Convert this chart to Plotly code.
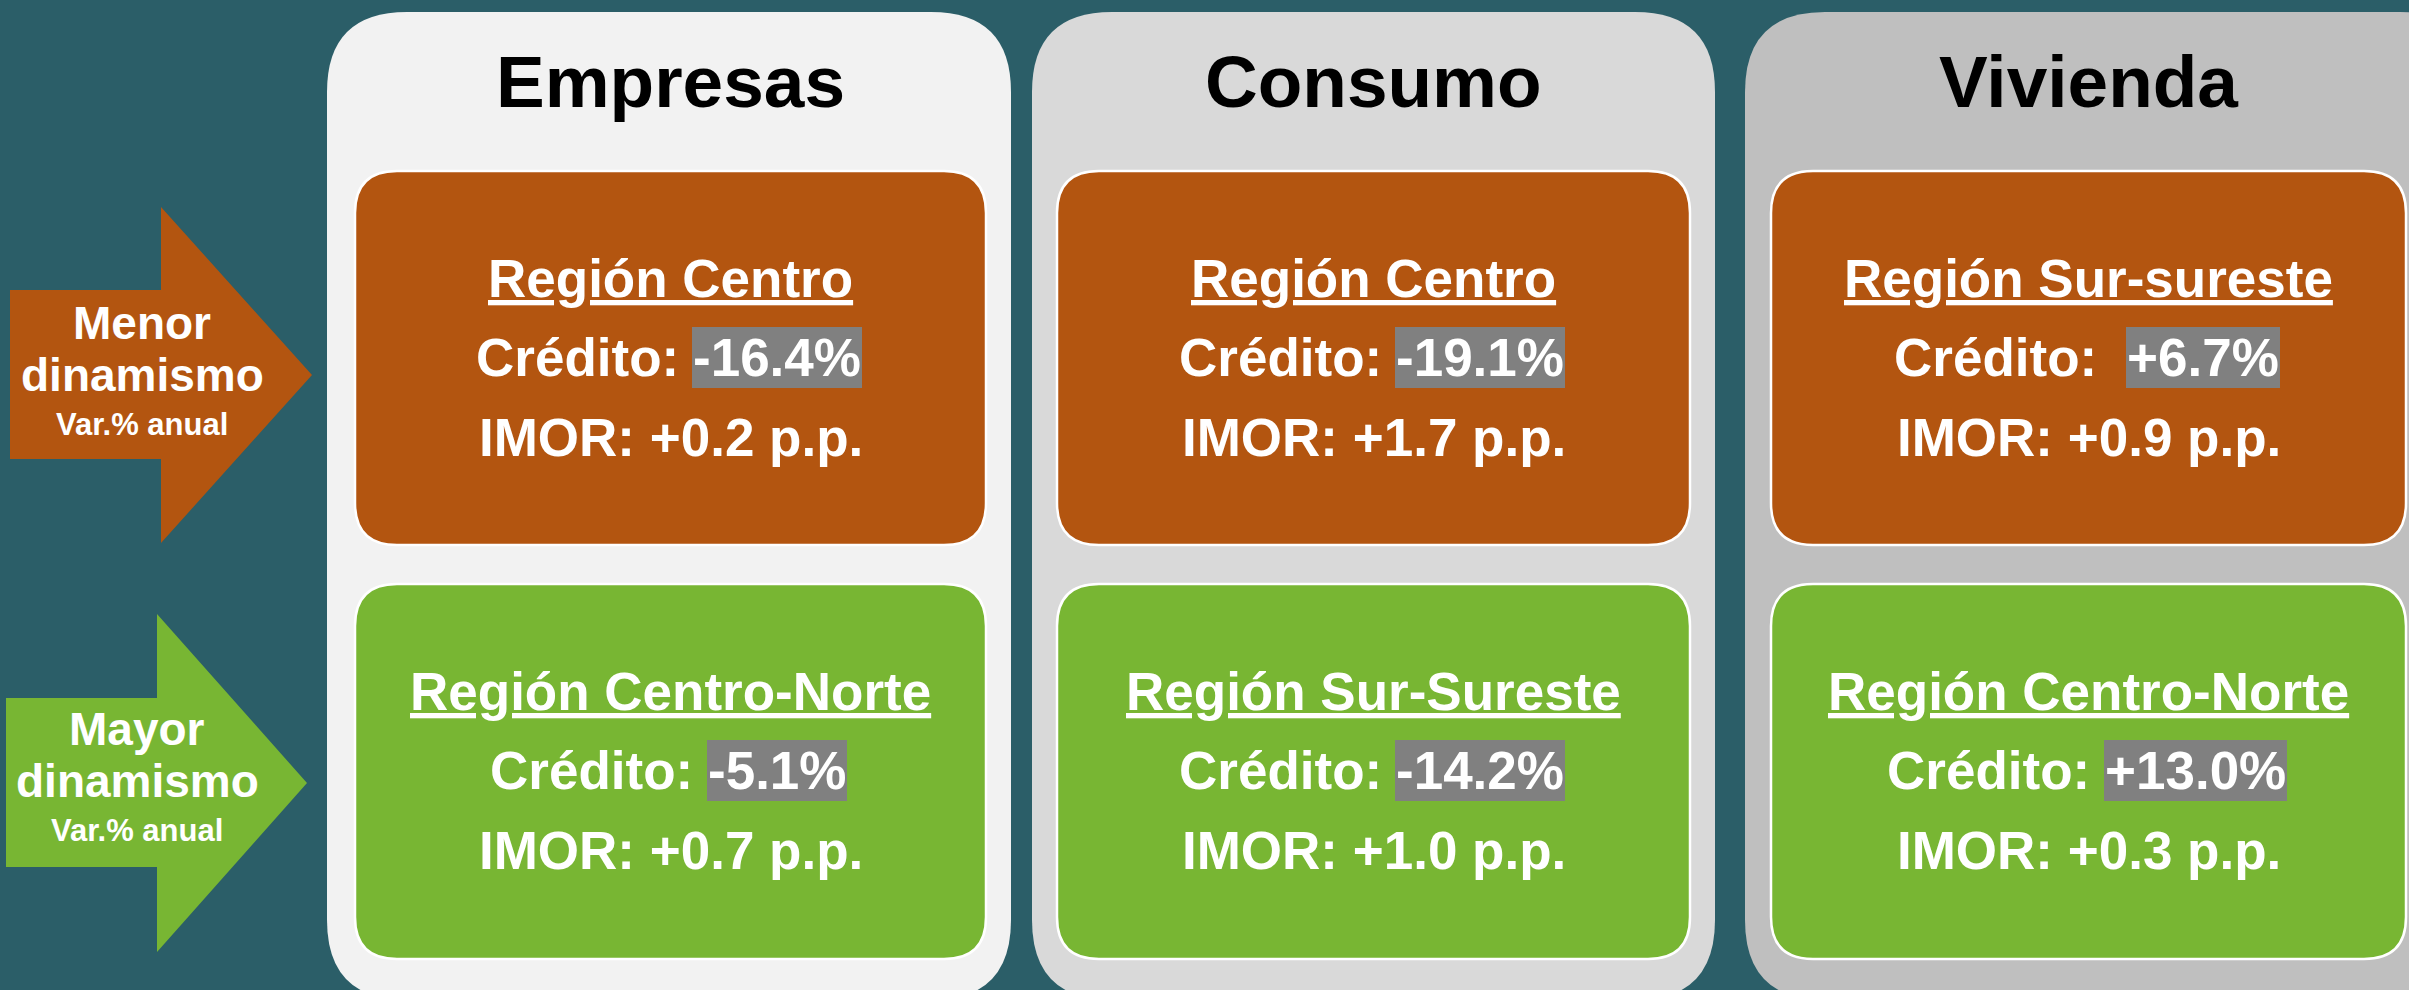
import plotly.graph_objects as go

# ---------------- data ----------------
categories = ["Empresas", "Consumo", "Vivienda"]
row_labels = ["Menor<br>dinamismo", "Mayor<br>dinamismo"]
row_unit = "Var.% anual"

menor_region = ["Región Centro", "Región Centro", "Región Sur-sureste"]
menor_credito = [-16.4, -19.1, 6.7]
menor_imor = [0.2, 1.7, 0.9]

mayor_region = ["Región Centro-Norte", "Región Sur-Sureste", "Región Centro-Norte"]
mayor_credito = [-5.1, -14.2, 13.0]
mayor_imor = [0.7, 1.0, 0.3]

credit_gap_spaces = [[1, 1, 2], [1, 1, 1]]

# ---------------- style / layout ----------------
W, H = 2409, 990
BG = "#2B5E68"
ORANGE = "#B35510"
GREEN = "#78B633"
HIGHLIGHT = "#808080"
PANEL_COLORS = ["#F2F2F2", "#D9D9D9", "#BFBFBF"]
ROW_COLORS = [ORANGE, GREEN]
FONT = "Liberation Sans, Arial, sans-serif"

panel_x = [(327, 1011), (1032, 1715), (1745, 2480)]
panel_top, panel_bottom, panel_r = 12, 1000, 80
box_x = [(355, 986), (1057, 1690), (1771, 2406)]
box_y = [(171, 545), (584, 959)]
box_r = 42
title_y = 81
title_size = 73
line_offsets = [107, 186, 266]
box_font = 53

arrows = [
    dict(l=10, t=290, b=459, hx=161, ht=207, hb=543, tip=312, tx=142, ty=[323, 375, 424]),
    dict(l=6, t=698, b=867, hx=157, ht=614, hb=952, tip=307, tx=137, ty=[729, 781, 830]),
]

# Arial Bold advance widths (per 1000 em)
AW = {" ": 278, "%": 889, "+": 584, "-": 333, ".": 278, ":": 333,
      "C": 722, "r": 389, "é": 556, "d": 611, "i": 278, "t": 333, "o": 611}
for dgt in "0123456789":
    AW[dgt] = 556


def text_w(s, size):
    return sum(AW.get(c, 556) for c in s) * size / 1000.0


def rrect(x0, y0, x1, y1, r):
    return (f"M{x0+r},{y0} L{x1-r},{y0} Q{x1},{y0} {x1},{y0+r} "
            f"L{x1},{y1-r} Q{x1},{y1} {x1-r},{y1} L{x0+r},{y1} "
            f"Q{x0},{y1} {x0},{y1-r} L{x0},{y0+r} Q{x0},{y0} {x0+r},{y0} Z")


shapes = []
annotations = []

# arrows
for a, col, lab in zip(arrows, ROW_COLORS, row_labels):
    path = (f"M{a['l']},{a['t']} L{a['hx']},{a['t']} L{a['hx']},{a['ht']} "
            f"L{a['tip']},{(a['ht']+a['hb'])/2} L{a['hx']},{a['hb']} "
            f"L{a['hx']},{a['b']} L{a['l']},{a['b']} Z")
    shapes.append(dict(type="path", path=path, fillcolor=col,
                       line=dict(width=0), layer="below"))
    parts = lab.split("<br>")
    for txt, yy, fs in zip(parts + [row_unit], a["ty"], [46, 46, 31]):
        annotations.append(dict(x=a["tx"], y=yy, text=txt, showarrow=False,
                                xanchor="center", yanchor="middle",
                                font=dict(family=FONT, size=fs, color="white", weight="bold")))

# panels + boxes
regions = [menor_region, mayor_region]
creditos = [menor_credito, mayor_credito]
imors = [menor_imor, mayor_imor]

for i, cat in enumerate(categories):
    px0, px1 = panel_x[i]
    shapes.append(dict(type="path", path=rrect(px0, panel_top, px1, panel_bottom, panel_r),
                       fillcolor=PANEL_COLORS[i], line=dict(width=0), layer="below"))
    bx0, bx1 = box_x[i]
    cx = (bx0 + bx1) / 2
    annotations.append(dict(x=cx, y=title_y, text=cat, showarrow=False,
                            xanchor="center", yanchor="middle",
                            font=dict(family=FONT, size=title_size, color="black", weight="bold")))
    for r in range(2):
        by0, by1 = box_y[r]
        shapes.append(dict(type="path", path=rrect(bx0, by0, bx1, by1, box_r),
                           fillcolor=ROW_COLORS[r], line=dict(color="white", width=2.5),
                           layer="below"))
        y1, y2, y3 = [by0 + o for o in line_offsets]
        fnt = dict(family=FONT, size=box_font, color="white", weight="bold")
        annotations.append(dict(x=cx, y=y1, text=f"<u>{regions[r][i]}</u>", showarrow=False,
                                xanchor="center", yanchor="middle", font=fnt))
        # credit line: label + highlighted number
        label = "Crédito:"
        num = f"{creditos[r][i]:+.1f}%"
        gap = text_w(" ", box_font) * credit_gap_spaces[r][i]
        lw = text_w(label, box_font)
        nw = text_w(num, box_font)
        left = cx - (lw + gap + nw) / 2
        annotations.append(dict(x=left + lw, y=y2, text=label, showarrow=False,
                                xanchor="right", yanchor="middle", font=fnt))
        annotations.append(dict(x=left + lw + gap - 3, y=y2, text=num, showarrow=False,
                                xanchor="left", yanchor="middle", font=fnt,
                                bgcolor=HIGHLIGHT, borderpad=1, borderwidth=0))
        annotations.append(dict(x=cx, y=y3, text=f"IMOR: {imors[r][i]:+.1f} p.p.",
                                showarrow=False, xanchor="center", yanchor="middle", font=fnt))

fig = go.Figure()
fig.update_layout(
    width=W, height=H,
    margin=dict(l=0, r=0, t=0, b=0),
    paper_bgcolor=BG, plot_bgcolor=BG,
    xaxis=dict(range=[0, W], visible=False, fixedrange=True),
    yaxis=dict(range=[H, 0], visible=False, fixedrange=True),
    shapes=shapes, annotations=annotations,
    showlegend=False,
)

fig.write_html("out.html", config={"displayModeBar": False},
               post_script="document.body.style.margin='0';document.body.style.overflow='hidden';")
